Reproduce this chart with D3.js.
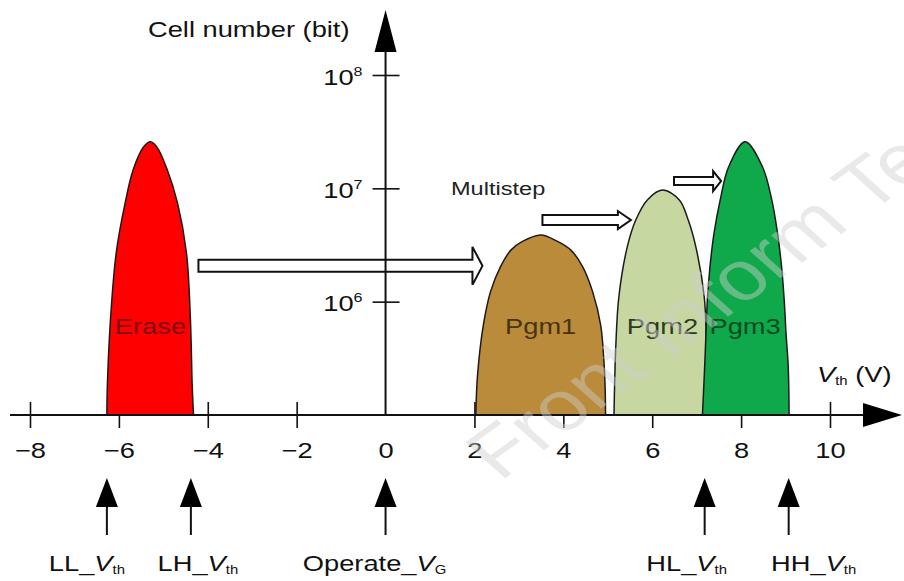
<!DOCTYPE html>
<html>
<head>
<meta charset="utf-8">
<script src="https://cdn.jsdelivr.net/npm/d3@7"></script>
<style>
    body { margin: 0; background: #fff; }
    svg text { font-family: "Liberation Sans", Arial, Helvetica, sans-serif; }
</style>
</head>
<body>
<svg id="chart" width="904" height="581"></svg>
<script>
// ---- data ----
const xTicks = [-8, -6, -4, -2, 0, 2, 4, 6, 8, 10];
const yTicks = [1e6, 1e7, 1e8];

// outlines of the Vth distributions: threshold voltage (V) vs cell number (bit)
const eraseVth   = [-6.27, -6.26, -6.19, -6.06, -5.86, -5.68, -5.45, -5.29, -5.14, -4.91, -4.68, -4.48, -4.39, -4.35, -4.32];
const eraseCells = [1e5, 1.8e5, 6.9e5, 2.7e6, 7.4e6, 1.45e7, 2.3e7, 2.57e7, 2.3e7, 1.45e7, 7.4e6, 2.7e6, 6.9e5, 1.8e5, 1e5];
const pgm1Vth    = [2.03, 2.07, 2.20, 2.36, 2.59, 2.82, 3.08, 3.49, 3.87, 4.17, 4.43, 4.66, 4.84, 4.93, 4.95];
const pgm1Cells  = [1e5, 2.25e5, 6.2e5, 1.22e6, 2.05e6, 2.85e6, 3.4e6, 3.88e6, 3.4e6, 2.85e6, 2.05e6, 1.22e6, 6.2e5, 2.25e5, 1e5];
const pgm2Vth    = [5.14, 5.18, 5.25, 5.44, 5.63, 5.89, 6.23, 6.61, 6.81, 6.98, 7.17, 7.22, 7.24];
const pgm2Cells  = [1e5, 4.0e5, 1.11e6, 3.06e6, 5.25e6, 7.9e6, 9.66e6, 7.9e6, 5.25e6, 3.06e6, 1.11e6, 4.0e5, 1e5];
const pgm3Vth    = [7.13, 7.18, 7.21, 7.24, 7.30, 7.39, 7.53, 7.72, 8.09, 8.48, 8.69, 8.82, 8.91, 8.97, 9.01, 9.06, 9.08];
const pgm3Cells  = [1e5, 2.67e5, 5.3e5, 1.03e6, 2.04e6, 4.0e6, 7.9e6, 1.55e7, 2.58e7, 1.55e7, 7.9e6, 4.0e6, 2.04e6, 1.03e6, 5.3e5, 2.67e5, 1e5];

const distNames = ["Erase", "Pgm1", "Pgm2", "Pgm3"];

// reference voltages marked under the axis
const markerNames = ["LL_", "LH_", "Operate_", "HL_", "HH_"];
const markerSubs  = ["th", "th", "G", "th", "th"];
const markerVth   = [-6.27, -4.38, 0, 7.18, 9.07];

// hollow "shift" arrows (erase -> pgm1 -> pgm2 -> pgm3)
const shiftFromVth = [-4.21, 3.53, 6.49];
const shiftToVth   = [2.18, 5.52, 7.55];
const shiftCells   = [2.07e6, 5.25e6, 1.16e7];

// ---- layout / style ----
const SX = 1.24;            // the figure's lettering is stretched horizontally
const FONT = 22;
const fills = ["#fe0000", "#b98b3b", "#c6d7a1", "#0fa94b"];
const labelColors = ["#7e0d0d", "#4a3311", "#2e3a20", "#084a22"];
const markerDx = [-20, 7, -11, -18, 25];
const arrowDims = [[6, 19, 10], [5, 9, 13], [4, 10, 8]]; // shaft half, head half, head length

const svg = d3.select("#chart");
const x = d3.scaleLinear().domain([-8, 10]).range([30, 830]);
const y = d3.scaleLog().domain([1e5, 1e8]).range([415, 75]);
const x0 = x(0), yBase = y(1e5);

// x axis ticks (drawn first so the distributions hide their upper halves)
const xAxis = d3.axisBottom(x)
    .tickValues(xTicks)
    .tickSize(13)
    .tickPadding(14)
    .tickFormat(d => d < 0 ? "\u2212" + Math.abs(d) : String(d));

const gx = svg.append("g")
    .attr("transform", `translate(0,${yBase})`)
    .call(xAxis);
gx.select(".domain").remove();
gx.selectAll(".tick line")
    .attr("y1", -13)
    .attr("stroke", "#111")
    .attr("stroke-width", 1.6)
    .filter(d => d === 0).remove();
gx.selectAll(".tick text")
    .attr("fill", "#111")
    .attr("font-size", FONT)
    .attr("font-family", "Liberation Sans, Arial, sans-serif")
    .attr("transform", `scale(${SX},1)`);

// y axis ticks
const yAxis = d3.axisLeft(y).tickValues(yTicks).tickSize(13).tickFormat("");
const gy = svg.append("g")
    .attr("transform", `translate(${x0},0)`)
    .call(yAxis);
gy.select(".domain").remove();
gy.selectAll(".tick line").attr("x1", 14).attr("stroke", "#111").attr("stroke-width", 1.6);
gy.selectAll(".tick").each(function (d) {
    const t = d3.select(this).append("text")
        .attr("text-anchor", "end")
        .attr("fill", "#111")
        .attr("font-size", FONT)
        .attr("transform", `translate(-23,9) scale(${SX},1)`);
    t.append("tspan").text("10");
    t.append("tspan").attr("font-size", 13).attr("dy", -9).text(Math.round(Math.log10(d)));
});

// distributions
const outlines = [
    d3.zip(eraseVth, eraseCells),
    d3.zip(pgm1Vth, pgm1Cells),
    d3.zip(pgm2Vth, pgm2Cells),
    d3.zip(pgm3Vth, pgm3Cells)
];
const line = d3.line()
    .x(d => x(d[0]))
    .y(d => y(d[1]))
    .curve(d3.curveCatmullRom.alpha(0.5));

svg.append("g").selectAll("path")
    .data(outlines)
    .enter().append("path")
    .attr("d", d => line(d) + "Z")
    .attr("fill", (d, i) => fills[i])
    .attr("stroke", "#1b1b1b")
    .attr("stroke-width", 1.5)
    .attr("stroke-linejoin", "round");

svg.append("g").selectAll("text")
    .data(outlines)
    .enter().append("text")
    .attr("text-anchor", "middle")
    .attr("font-size", FONT)
    .attr("fill", (d, i) => labelColors[i])
    .attr("transform", d => {
        const peak = d3.greatest(d, p => p[1]);
        return `translate(${x(peak[0])},334) scale(${SX},1)`;
    })
    .text((d, i) => distNames[i]);

// hollow shift arrows
function hollowArrow(xa, xb, yc, dims) {
    const [h, hh, hl] = dims;
    return `M${xa},${yc - h}L${xb - hl},${yc - h}L${xb - hl},${yc - hh}L${xb},${yc}` +
           `L${xb - hl},${yc + hh}L${xb - hl},${yc + h}L${xa},${yc + h}Z`;
}
svg.append("g").selectAll("path")
    .data(shiftCells)
    .enter().append("path")
    .attr("d", (c, i) => hollowArrow(x(shiftFromVth[i]), x(shiftToVth[i]), y(c), arrowDims[i]))
    .attr("fill", "#fff")
    .attr("stroke", "#111")
    .attr("stroke-width", 2)
    .attr("stroke-linejoin", "miter");

svg.append("text")
    .attr("font-size", 19)
    .attr("fill", "#222")
    .attr("transform", `translate(451,195) scale(${SX},1)`)
    .text("Multistep");

// axis lines with arrowheads
svg.append("line")
    .attr("x1", 10).attr("x2", 866)
    .attr("y1", yBase).attr("y2", yBase)
    .attr("stroke", "#111").attr("stroke-width", 2);
svg.append("path")
    .attr("d", `M863,${yBase - 12}L902,${yBase}L863,${yBase + 12}Z`)
    .attr("fill", "#000");

svg.append("line")
    .attr("x1", x0).attr("x2", x0)
    .attr("y1", yBase).attr("y2", 50)
    .attr("stroke", "#111").attr("stroke-width", 2);
svg.append("path")
    .attr("d", `M${x0},10L${x0 + 11},52L${x0 - 11},52Z`)
    .attr("fill", "#000");

// axis titles
svg.append("text")
    .attr("font-size", FONT)
    .attr("fill", "#111")
    .attr("transform", `translate(148,37) scale(${SX},1)`)
    .text("Cell number (bit)");

const vt = svg.append("text")
    .attr("font-size", FONT)
    .attr("fill", "#111")
    .attr("transform", `translate(817,382) scale(${SX},1)`);
vt.append("tspan").attr("font-style", "italic").text("V");
vt.append("tspan").attr("font-size", 12).attr("dy", 3).text("th");
vt.append("tspan").attr("dy", -3).text(" (V)");

// marker arrows and labels under the axis
const mk = svg.append("g").selectAll("g")
    .data(markerVth)
    .enter().append("g")
    .attr("transform", d => `translate(${x(d)},0)`);
mk.append("line")
    .attr("y1", 505).attr("y2", 535)
    .attr("stroke", "#111").attr("stroke-width", 2);
mk.append("path")
    .attr("d", "M0,478L11,507L-11,507Z")
    .attr("fill", "#000");
const mt = mk.append("text")
    .attr("text-anchor", "middle")
    .attr("font-size", FONT)
    .attr("fill", "#111")
    .attr("transform", (d, i) => `translate(${markerDx[i]},571) scale(${SX},1)`);
mt.append("tspan").text((d, i) => markerNames[i]);
mt.append("tspan").attr("font-style", "italic").text("V");
mt.append("tspan").attr("font-size", 12).attr("dy", 3).text((d, i) => markerSubs[i]);

// faint journal watermark over the figure (stretched like the rest of the lettering)
svg.append("text")
    .attr("font-size", 70)
    .attr("fill", "#cfcfcf")
    .attr("fill-opacity", 0.45)
    .attr("transform", `translate(500,482) scale(${SX},1) rotate(-42)`)
    .text("Front Inform Tec");
</script>
</body>
</html>
